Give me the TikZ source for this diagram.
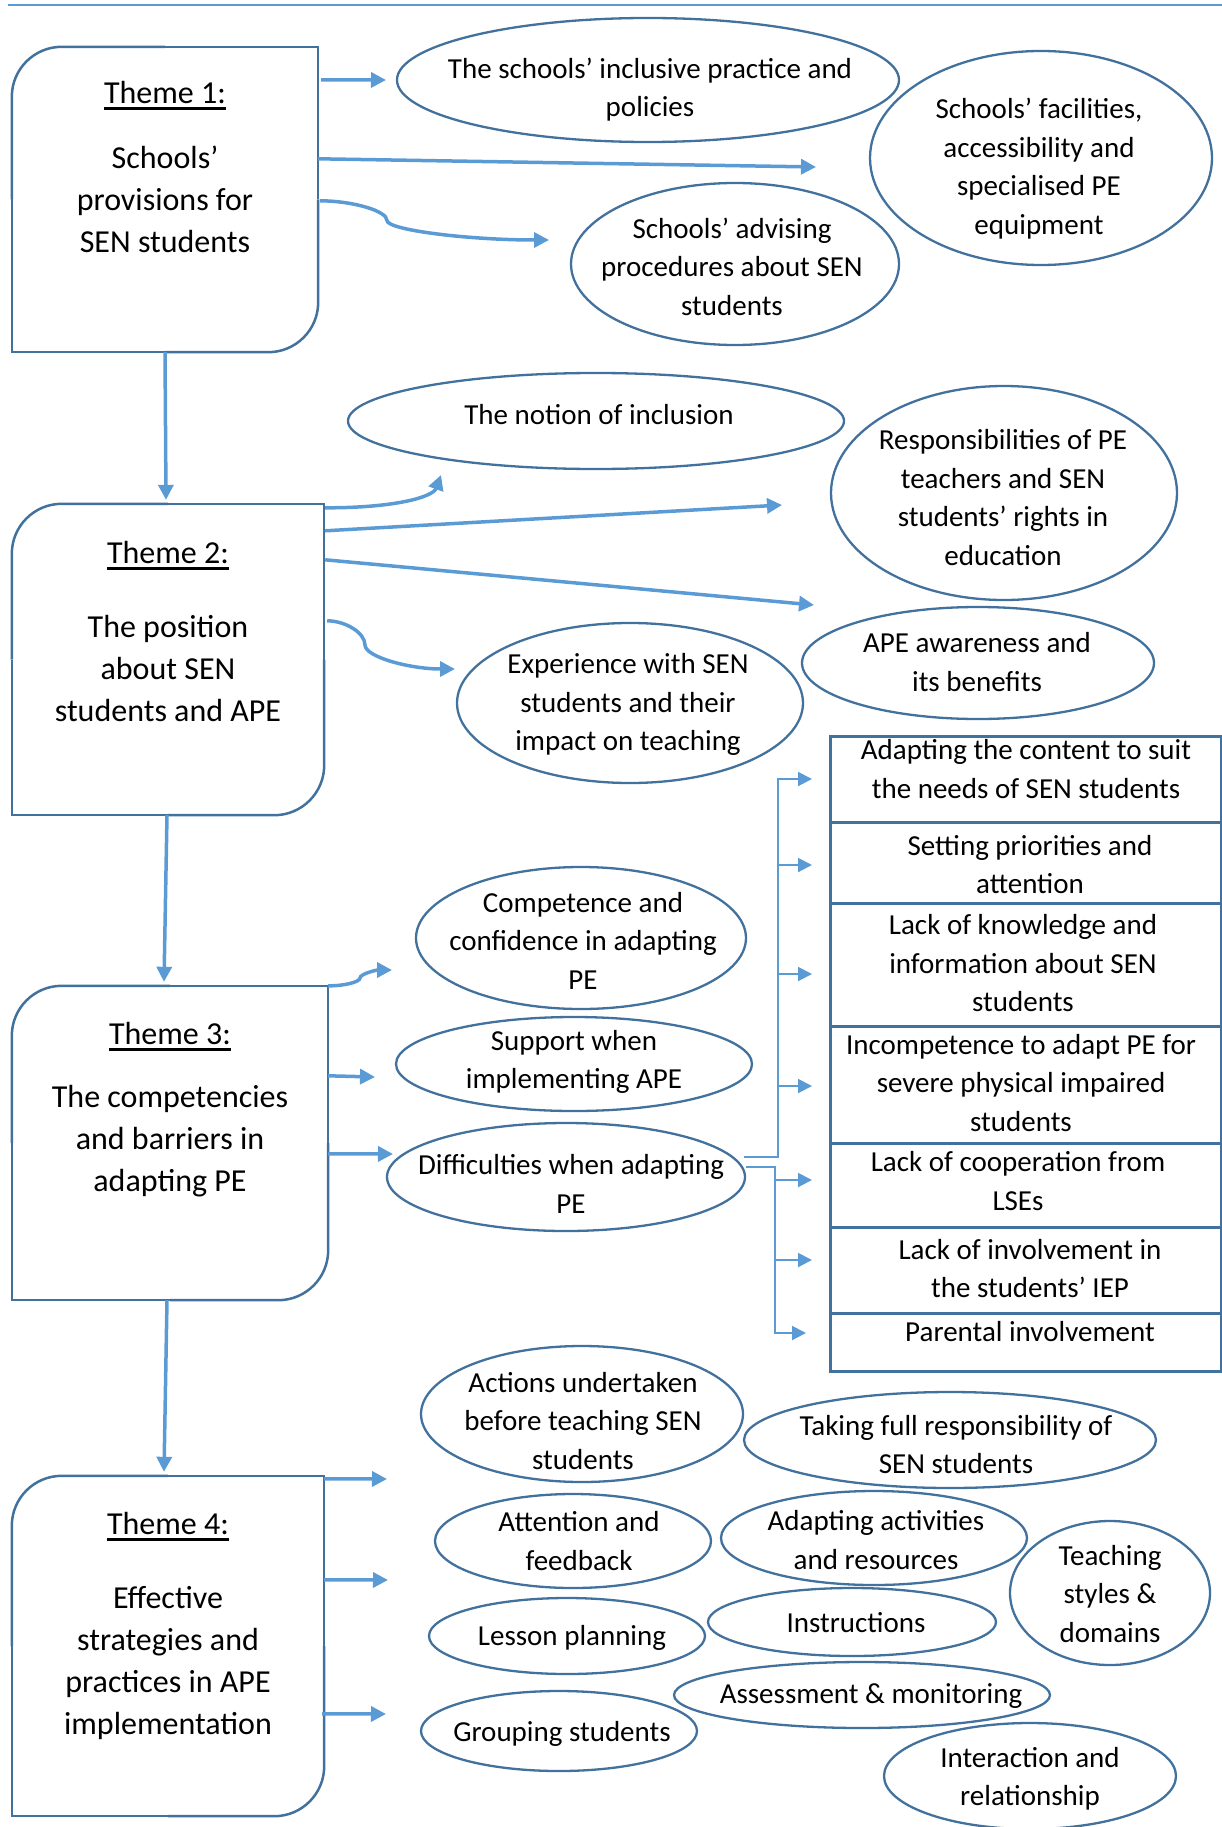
\documentclass[tikz,border=0pt]{standalone}
\usepackage{fontspec}
\setmainfont{Carlito}
\usetikzlibrary{arrows.meta,shapes.geometric}
\definecolor{linkblue}{HTML}{5B9BD5}
\definecolor{edgeblue}{HTML}{41719C}
% underlined theme heading with a heavier rule
\newcommand{\themeul}[1]{\setbox0=\hbox{#1}\rlap{\rule[-6.5pt]{\wd0}{3pt}}\box0}
% theme frame: rounded top-left and bottom-right corners only
\newcommand{\themeframe}[1]{%
  \draw[edgeblue,line width=2.5pt] (#1.west) |- (#1.south) (#1.east) |- (#1.north);
  \draw[edgeblue,line width=2.5pt,rounded corners=50pt] (#1.north) -| (#1.west) (#1.east) |- (#1.south);}
\begin{document}
\begin{tikzpicture}[x=1pt,y=-1pt,
  bubble/.style={ellipse,draw=edgeblue,line width=2.3pt,fill=white,inner sep=0pt},
  btext/.style={font=\fontsize{29}{38.5}\selectfont,align=center,inner sep=0pt,
    execute at begin node=\strut,execute at end node=\strut},
  ttext/.style={font=\fontsize{32}{42}\selectfont,align=center,inner sep=0pt,
    execute at begin node=\strut,execute at end node=\strut},
  themebox/.style={rectangle,inner sep=0pt},
  rowbox/.style={rectangle,draw=edgeblue,line width=2.8pt,inner sep=0pt,anchor=north west,minimum width=391pt},
  link/.style={draw=linkblue,line width=3.5pt,-{Triangle[length=15pt,width=15pt]}},
  branch/.style={draw=linkblue,line width=2pt,-{Triangle[length=14pt,width=14pt]}},
]
\useasboundingbox (0,0) rectangle (1222,1827);

% top rule
\coordinate (ruleL) at (8,5);
\coordinate (ruleR) at (1222,5);
\draw[linkblue,line width=2.5pt] (ruleL) -- (ruleR);

% ---------- theme boxes ----------
\node[themebox,minimum width=306pt,minimum height=305pt] (t1) at (165,199.5) {};
\node[themebox,minimum width=312pt,minimum height=311pt] (t2) at (168,659.5) {};
\node[themebox,minimum width=316pt,minimum height=314pt] (t3) at (170,1143) {};
\node[themebox,minimum width=312pt,minimum height=340pt] (t4) at (168,1646) {};
\themeframe{t1}
\themeframe{t2}
\themeframe{t3}
\themeframe{t4}

\node[ttext] (t1h) at (165,95) {\themeul{Theme 1:}};
\node[ttext] (t1b) at (165,205.6) {Schools’\\provisions for\\SEN students};
\node[ttext] (t2h) at (168,554.8) {\themeul{Theme 2:}};
\node[ttext] (t2b) at (168,674.6) {The position\\about SEN\\students and APE};
\node[ttext] (t3h) at (170,1036) {\themeul{Theme 3:}};
\node[ttext] (t3b) at (170,1145) {The competencies\\and barriers in\\adapting PE};
\node[ttext] (t4h) at (168,1526) {\themeul{Theme 4:}};
\node[ttext] (t4b) at (168,1667) {Effective\\strategies and\\practices in APE\\implementation};

% ---------- theme 1 sub-themes ----------
\node[bubble,minimum width=502pt,minimum height=124pt] (e1) at (648,80) {};
\node[bubble,minimum width=342pt,minimum height=214pt] (e2) at (1041,158) {};
\node[bubble,minimum width=328pt,minimum height=162pt] (e3) at (735,264) {};
\node[btext] (e1t) at (650,93) {The schools’ inclusive practice and\\policies};
\node[btext] (e2t) at (1039,172) {Schools’ facilities,\\accessibility and\\specialised PE\\equipment};
\node[btext] (e3t) at (732,272.5) {Schools’ advising\\procedures about SEN\\students};

% ---------- theme 2 sub-themes ----------
\node[bubble,minimum width=496pt,minimum height=96pt] (e4) at (596,421) {};
\node[bubble,minimum width=346pt,minimum height=214pt] (e5) at (1004,493) {};
\node[bubble,minimum width=352pt,minimum height=112pt] (e6) at (978,663) {};
\node[bubble,minimum width=346pt,minimum height=160pt] (e7) at (630,703) {};
\node[btext] (e4t) at (599,416.5) {The notion of inclusion};
\node[btext] (e5t) at (1003,503) {Responsibilities of PE\\teachers and SEN\\students’ rights in\\education};
\node[btext] (e6t) at (977,667.5) {APE awareness and\\its benefits};
\node[btext] (e7t) at (628,708) {Experience with SEN\\students and their\\impact on teaching};

% ---------- theme 3 sub-themes ----------
\node[bubble,minimum width=330pt,minimum height=142pt] (e8) at (581,938) {};
\node[bubble,minimum width=356pt,minimum height=94pt] (e9) at (574,1064) {};
\node[bubble,minimum width=358pt,minimum height=108pt] (e10) at (566,1177) {};
\node[btext] (e8t) at (583,946.5) {Competence and\\confidence in adapting\\PE};
\node[btext] (e9t) at (574,1065) {Support when\\implementing APE};
\node[btext] (e10t) at (571,1189.5) {Difficulties when adapting\\PE};

% difficulties listed on the right
\node[rowbox,minimum height=86pt] (r1) at (829,735) {};
\node[rowbox,minimum height=81pt] (r2) at (829,821) {};
\node[rowbox,minimum height=123pt] (r3) at (829,902) {};
\node[rowbox,minimum height=117pt] (r4) at (829,1025) {};
\node[rowbox,minimum height=84pt] (r5) at (829,1142) {};
\node[rowbox,minimum height=86pt] (r6) at (829,1226) {};
\node[rowbox,minimum height=58pt] (r7) at (829,1312) {};
\node[btext] (r1t) at (1026,774.5) {Adapting the content to suit\\the needs of SEN students};
\node[btext] (r2t) at (1030,870) {Setting priorities and\\attention};
\node[btext] (r3t) at (1023,969) {Lack of knowledge and\\information about SEN\\students};
\node[btext] (r4t) at (1021,1088.5) {Incompetence to adapt PE for\\severe physical impaired\\students};
\node[btext] (r5t) at (1018,1186.5) {Lack of cooperation from\\LSEs};
\node[btext] (r6t) at (1030,1274) {Lack of involvement in\\the students’ IEP};
\node[btext] (r7t) at (1030,1333.5) {Parental involvement};

% ---------- theme 4 sub-themes ----------
\node[bubble,minimum width=322pt,minimum height=136pt] (e11) at (582,1414) {};
\node[bubble,minimum width=412pt,minimum height=96pt] (e12) at (950,1440) {};
\node[bubble,minimum width=276pt,minimum height=94pt] (e13) at (573,1541) {};
\node[bubble,minimum width=306pt,minimum height=94pt] (e14) at (874,1538) {};
\node[bubble,minimum width=200pt,minimum height=144pt] (e15) at (1110,1593) {};
\node[bubble,minimum width=276pt,minimum height=76pt] (e16) at (567,1636) {};
\node[bubble,minimum width=288pt,minimum height=68pt] (e17) at (852,1622) {};
\node[bubble,minimum width=376pt,minimum height=66pt] (e18) at (862,1695) {};
\node[bubble,minimum width=276pt,minimum height=80pt] (e19) at (559,1731) {};
\node[bubble,minimum width=292pt,minimum height=106pt] (e20) at (1030,1776) {};
\node[btext] (e11t) at (583,1426.5) {Actions undertaken\\before teaching SEN\\students};
\node[btext] (e12t) at (956,1450) {Taking full responsibility of\\SEN students};
\node[btext] (e13t) at (579,1546.5) {Attention and\\feedback};
\node[btext] (e14t) at (876,1545.5) {Adapting activities\\and resources};
\node[btext] (e15t) at (1110,1599.5) {Teaching\\styles \&\\domains};
\node[btext] (e16t) at (572,1637.5) {Lesson planning};
\node[btext] (e17t) at (856,1624.5) {Instructions};
\node[btext] (e18t) at (871,1695.5) {Assessment \& monitoring};
\node[btext] (e19t) at (562,1733.5) {Grouping students};
\node[btext] (e20t) at (1030,1782) {Interaction and\\relationship};

% ---------- arrow ends ----------
\coordinate (p11) at (386,80);
\coordinate (p12) at (816,167);
\coordinate (p13) at (549,240);
\coordinate (p21) at (441,475);
\coordinate (p22) at (782,505);
\coordinate (p23) at (814,605);
\coordinate (p24) at (455,669);
\coordinate (p31) at (392,970);
\coordinate (p32) at (375,1077);
\coordinate (p33) at (393,1154);
\coordinate (p41) at (387,1479);
\coordinate (p42) at (388,1580);
\coordinate (p43) at (386,1714);

% theme to theme
\draw[link] (t1.south) -- ([xshift=-2pt,yshift=4pt]t2.north);
\draw[link] ([xshift=-1pt]t2.south) -- ([xshift=-6pt,yshift=4pt]t3.north);
\draw[link] ([xshift=-3pt]t3.south) -- ([xshift=-4pt,yshift=4pt]t4.north);

% theme 1 links
\draw[link] ([xshift=3pt,yshift=-33pt]t1.north east) -- (p11);
\draw[link] ([yshift=-112pt]t1.north east) -- (p12);
\draw[link] ([xshift=2pt,yshift=-154pt]t1.north east)
  .. controls (353.5,201) and (387,211) .. (387,220.5)
  .. controls (387,230) and (468,240) .. (p13);

% theme 2 links
\draw[link] ([xshift=1pt,yshift=-4pt]t2.north east)
  .. controls (395,508) and (433,497) .. (p21);
\draw[link] ([xshift=1pt,yshift=-27pt]t2.north east) -- (p22);
\draw[link] ([xshift=1pt,yshift=-56pt]t2.north east) -- (p23);
\draw[link] ([xshift=3pt,yshift=-117pt]t2.north east)
  .. controls (346,621) and (365,633) .. (365,645)
  .. controls (365,657) and (410,669) .. (p24);

% theme 3 links
\draw[link] (t3.north east)
  .. controls (344,986) and (360,982) .. (360,978)
  .. controls (360,974) and (376,970) .. (p31);
\draw[link] ([yshift=-90pt]t3.north east) -- (p32);
\draw[link] ([yshift=-168pt]t3.north east) -- (p33);

% theme 4 links
\draw[link] ([yshift=-3pt]t4.north east) -- (p41);
\draw[link] ([yshift=-104pt]t4.north east) -- (p42);
\draw[link] ([xshift=-2pt,yshift=-238pt]t4.north east) -- (p43);

% elbow connectors from the difficulties bubble
\coordinate (kneeU) at (778,1157);
\coordinate (kneeL) at (775,1167);
\coordinate (u1) at (812,779);
\coordinate (u2) at (812,865);
\coordinate (u3) at (812,974);
\coordinate (u4) at (812,1086);
\coordinate (l1) at (812,1180);
\coordinate (l2) at (812,1260);
\coordinate (l3) at (806,1333);
\draw[branch] ([xshift=-2pt,yshift=20pt]e10.east) -- (kneeU) |- (u1);
\draw[branch] (kneeU |- u2) -- (u2);
\draw[branch] (kneeU |- u3) -- (u3);
\draw[branch] (kneeU |- u4) -- (u4);
\draw[branch] ([yshift=10pt]e10.east) -- (kneeL) |- (l3);
\draw[branch] (kneeL |- l1) -- (l1);
\draw[branch] (kneeL |- l2) -- (l2);
\end{tikzpicture}
\end{document}
